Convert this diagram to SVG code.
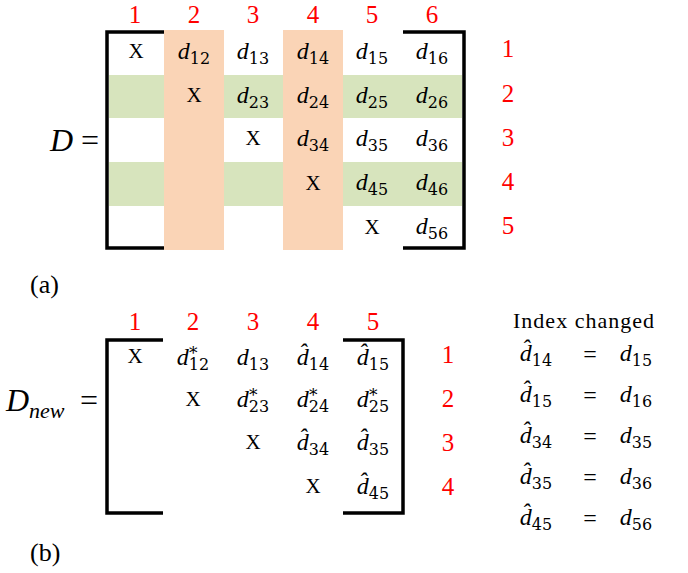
<svg xmlns="http://www.w3.org/2000/svg" width="688" height="573" viewBox="0 0 688 573">
<style>
text{font-family:"Liberation Serif","DejaVu Serif",serif;fill:#000}
.d{font-style:italic;font-size:24px}
.s{font-size:16px;font-family:"DejaVu Serif","Liberation Serif",serif}
.st{font-size:17px;font-family:"DejaVu Serif","Liberation Serif",serif}
.x{font-size:21px;text-anchor:middle}
.m{text-anchor:middle}
.r{fill:#ff0000;font-size:25px;text-anchor:middle}
.br{fill:none;stroke:#000;stroke-width:3.5}
.lbl{font-size:26px}
.big{font-size:32px}
</style>
<g id="top-shading">
<rect x="109" y="75" width="353" height="43" fill="#d7e4bd"/>
<rect x="109" y="162" width="353" height="44" fill="#d7e4bd"/>
<rect x="164" y="30" width="60" height="220" fill="#fad4b6"/>
<rect x="283" y="30" width="60" height="220" fill="#fad4b6"/>
</g>
<g id="matrix-D">
<path class="br" d="M164,32 H107 V248 H164 M403,32 H464 V248 H403"/>
<text x="50" y="151" class="d big">D</text>
<text x="81" y="151" class="big">=</text>
<g id="top-col-labels">
<text x="135" y="23" class="r">1</text><text x="194" y="23" class="r">2</text><text x="253" y="23" class="r">3</text><text x="313" y="23" class="r">4</text><text x="372" y="23" class="r">5</text><text x="432" y="23" class="r">6</text>
</g>
<g id="top-row-labels">
<text x="508" y="57" class="r">1</text><text x="508" y="102" class="r">2</text><text x="508" y="146" class="r">3</text><text x="508" y="190" class="r">4</text><text x="508" y="234" class="r">5</text>
</g>
<g id="top-cells">
<text x="136" y="58" class="x">X</text>
<text x="194" y="59" class="m"><tspan class="d">d</tspan><tspan class="s" dy="5">12</tspan></text>
<text x="253" y="59" class="m"><tspan class="d">d</tspan><tspan class="s" dy="5">13</tspan></text>
<text x="313" y="59" class="m"><tspan class="d">d</tspan><tspan class="s" dy="5">14</tspan></text>
<text x="372" y="59" class="m"><tspan class="d">d</tspan><tspan class="s" dy="5">15</tspan></text>
<text x="432" y="59" class="m"><tspan class="d">d</tspan><tspan class="s" dy="5">16</tspan></text>

<text x="194" y="102" class="x">X</text>
<text x="253" y="103" class="m"><tspan class="d">d</tspan><tspan class="s" dy="5">23</tspan></text>
<text x="313" y="103" class="m"><tspan class="d">d</tspan><tspan class="s" dy="5">24</tspan></text>
<text x="372" y="103" class="m"><tspan class="d">d</tspan><tspan class="s" dy="5">25</tspan></text>
<text x="432" y="103" class="m"><tspan class="d">d</tspan><tspan class="s" dy="5">26</tspan></text>

<text x="253" y="145" class="x">X</text>
<text x="313" y="146" class="m"><tspan class="d">d</tspan><tspan class="s" dy="5">34</tspan></text>
<text x="372" y="146" class="m"><tspan class="d">d</tspan><tspan class="s" dy="5">35</tspan></text>
<text x="432" y="146" class="m"><tspan class="d">d</tspan><tspan class="s" dy="5">36</tspan></text>

<text x="313" y="190" class="x">X</text>
<text x="372" y="190" class="m"><tspan class="d">d</tspan><tspan class="s" dy="5">45</tspan></text>
<text x="432" y="190" class="m"><tspan class="d">d</tspan><tspan class="s" dy="5">46</tspan></text>

<text x="372" y="234" class="x">X</text>
<text x="432" y="234" class="m"><tspan class="d">d</tspan><tspan class="s" dy="5">56</tspan></text>
</g>
</g>
<text x="30" y="293" class="lbl">(a)</text>
<g id="matrix-Dnew">
<path class="br" d="M163,340 H107 V513 H163 M343,340 H403 V513 H343"/>
<text x="6" y="411" class="d big">D<tspan style="font-size:22px" dy="7">new</tspan></text>
<text x="80" y="411" class="big">=</text>
<g id="bot-col-labels">
<text x="135" y="330" class="r">1</text><text x="193" y="330" class="r">2</text><text x="253" y="330" class="r">3</text><text x="313" y="330" class="r">4</text><text x="373" y="330" class="r">5</text>
</g>
<g id="bot-row-labels">
<text x="448" y="363" class="r">1</text><text x="448" y="407" class="r">2</text><text x="448" y="451" class="r">3</text><text x="448" y="495" class="r">4</text>
</g>
<g id="bot-cells">
<text x="135" y="363" class="x">X</text>
<text x="193" y="365" class="m"><tspan class="d">d</tspan><tspan class="s" dy="5">12</tspan></text><text x="189" y="359" class="st">*</text>
<text x="253" y="365" class="m"><tspan class="d">d</tspan><tspan class="s" dy="5">13</tspan></text>
<text x="313" y="365" class="m"><tspan class="d">d̂</tspan><tspan class="s" dy="5">14</tspan></text>
<text x="373" y="365" class="m"><tspan class="d">d̂</tspan><tspan class="s" dy="5">15</tspan></text>

<text x="193" y="406" class="x">X</text>
<text x="253" y="407" class="m"><tspan class="d">d</tspan><tspan class="s" dy="5">23</tspan></text><text x="249" y="401" class="st">*</text>
<text x="313" y="407" class="m"><tspan class="d">d</tspan><tspan class="s" dy="5">24</tspan></text><text x="309" y="401" class="st">*</text>
<text x="373" y="407" class="m"><tspan class="d">d</tspan><tspan class="s" dy="5">25</tspan></text><text x="369" y="401" class="st">*</text>

<text x="253" y="449" class="x">X</text>
<text x="313" y="450" class="m"><tspan class="d">d̂</tspan><tspan class="s" dy="5">34</tspan></text>
<text x="373" y="450" class="m"><tspan class="d">d̂</tspan><tspan class="s" dy="5">35</tspan></text>

<text x="313" y="493" class="x">X</text>
<text x="373" y="494" class="m"><tspan class="d">d̂</tspan><tspan class="s" dy="5">45</tspan></text>
</g>
</g>
<g id="index-changed">
<text x="584" y="328" class="m" style="font-size:22px;letter-spacing:1px">Index changed</text>
<g class="eqs">
<text x="536" y="361" class="m"><tspan class="d">d̂</tspan><tspan class="s" dy="5">14</tspan></text><text x="590" y="362" class="m" style="font-size:24px">=</text><text x="636" y="361" class="m"><tspan class="d">d</tspan><tspan class="s" dy="5">15</tspan></text>
<text x="536" y="402" class="m"><tspan class="d">d̂</tspan><tspan class="s" dy="5">15</tspan></text><text x="590" y="403" class="m" style="font-size:24px">=</text><text x="636" y="402" class="m"><tspan class="d">d</tspan><tspan class="s" dy="5">16</tspan></text>
<text x="536" y="443" class="m"><tspan class="d">d̂</tspan><tspan class="s" dy="5">34</tspan></text><text x="590" y="444" class="m" style="font-size:24px">=</text><text x="636" y="443" class="m"><tspan class="d">d</tspan><tspan class="s" dy="5">35</tspan></text>
<text x="536" y="484" class="m"><tspan class="d">d̂</tspan><tspan class="s" dy="5">35</tspan></text><text x="590" y="485" class="m" style="font-size:24px">=</text><text x="636" y="484" class="m"><tspan class="d">d</tspan><tspan class="s" dy="5">36</tspan></text>
<text x="536" y="525" class="m"><tspan class="d">d̂</tspan><tspan class="s" dy="5">45</tspan></text><text x="590" y="526" class="m" style="font-size:24px">=</text><text x="636" y="525" class="m"><tspan class="d">d</tspan><tspan class="s" dy="5">56</tspan></text>
</g>
</g>
<text x="30" y="561" class="lbl">(b)</text>
</svg>
